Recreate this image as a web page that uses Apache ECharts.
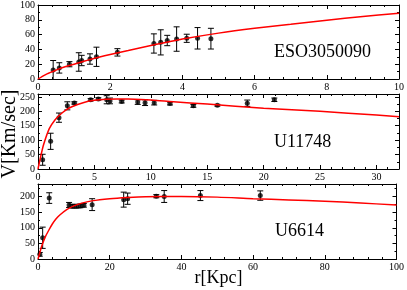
<!DOCTYPE html>
<html><head><meta charset="utf-8">
<script src="https://cdn.jsdelivr.net/npm/echarts@6/dist/echarts.min.js"></script>
<style>html,body{margin:0;padding:0;background:#fff}#c{width:407px;height:290px}</style>
</head><body><div id="c"></div>
<script>
// ---- data ----
const esoR = [0.42,0.59,0.87,1.13,1.21,1.44,1.62,2.2,3.21,3.40,3.58,3.84,4.12,4.42,4.79];
const esoV = [12,15,20,23,25,27,30,36,48,49.5,52,54,55,55,54.5];
const esoE = [13,7,3.5,12.5,7,7,13,5,13,17,7,16.5,5.5,14.5,14];
const esoFitR = [0,0.1,0.25,0.5,0.75,1,1.5,2,2.5,3,3.5,4,5,6,7,8,9,10];
const esoFitV = [0,3,7,12,16.5,20,27,33,38.5,44,49,54,62,68.5,74,79.5,84.5,89];

const u117R = [0.41,1.12,1.86,2.6,3.22,4.67,5.35,6.09,6.38,7.42,8.84,9.49,10.3,11.7,13.77,15.9,18.55,20.95];
const u117V = [32,96,178,219,229,240,243,240,236,234,232,230,230,227,219,221,228,240];
const u117E = [19,28,16,14,4,4,4,14,10,5,8,10,8,5,5,3,11,6];
const u117FitR = [0,0.25,0.5,1,1.5,2,2.5,3,4,5,6,7,8,10,12,15,20,25,30,32];
const u117FitV = [0,45,85,140,170,190,205,216,230,238,242,243,242.5,239,233,225,211,200,187,181];

const u66R = [0.5,1.3,3.13,8.67,9.6,10.7,11.8,12.8,15.1,23.9,25,33,35.2,45.3,62];
const u66V = [15,68,195,173,169,169,170,172,174,190,193,201,200,203,203];
const u66E = [6,34,17,8,6,6,6,6,19,24,18,5,19,16,15];
const u66FitR = [0,0.5,1,2,3,4,5,6,8,10,12,15,20,25,30,40,50,60,70,80,90,100];
const u66FitV = [0,20,40,70,92,112,128,140,158,170,178,186,193,197,199.5,200,198,193,189,185,179,173];

const panelNames = ['ESO3050090','U11748','U6614'];
const xMax = [10,32,100], xInt = [2,5,20];
const yMax = [100,260,240], yInt = [20,50,50];
const xShowMax = [true,false,true];

// ---- chart ----
const F = 'Liberation Serif';
const grids = [
  {left:38, top:4.7, width:361, height:74.3},
  {left:38, top:94, width:361, height:75},
  {left:38, top:184, width:361, height:75}
];
const xAxes = [], yAxes = [], series = [];
function ax(i, max, interval, pos, label, split){
  return {
    gridIndex:i, type:'value', min:0, max:max, interval:interval, position:pos,
    axisLine:{show:true, onZero:false, lineStyle:{color:'#000', width:1}},
    axisTick:{show:true, inside:true, length:4, lineStyle:{color:'#000'}},
    minorTick:{show:true, splitNumber:split, length:2, lineStyle:{color:'#000'}},
    axisLabel:{show:label, color:'#000', fontFamily:F, fontSize:10, margin:3},
    splitLine:{show:false}
  };
}
const pts = [[esoR,esoV,esoE],[u117R,u117V,u117E],[u66R,u66V,u66E]];
const fits = [[esoFitR,esoFitV],[u117FitR,u117FitV],[u66FitR,u66FitV]];
const xSplit=[5,5,5], ySplit=[2,2,2];
for (let i=0;i<3;i++){
  const xb = ax(i,xMax[i],xInt[i],'bottom',true,xSplit[i]);
  xb.axisLabel.showMaxLabel = xShowMax[i];
  xAxes.push(xb);
  xAxes.push(ax(i,xMax[i],xInt[i],'top',false,xSplit[i]));
  const yl = ax(i,yMax[i],yInt[i],'left',true,ySplit[i]);
  yl.axisLabel.showMaxLabel = (i===0);
  yAxes.push(yl);
  yAxes.push(ax(i,yMax[i],yInt[i],'right',false,ySplit[i]));
  const [R,V,E] = pts[i];
  const ed = R.map((r,k)=>[r,V[k],E[k]]);
  series.push({
    type:'custom', xAxisIndex:2*i, yAxisIndex:2*i, clip:true, z:3,
    data: ed,
    renderItem:function(params, api){
      const x=api.value(0), y=api.value(1), e=api.value(2);
      const a=api.coord([x,y-e]), b=api.coord([x,y+e]);
      const w=3, st={stroke:'#000', lineWidth:1};
      return {type:'group', children:[
        {type:'line', shape:{x1:a[0],y1:a[1],x2:b[0],y2:b[1]}, style:st},
        {type:'line', shape:{x1:a[0]-w,y1:a[1],x2:a[0]+w,y2:a[1]}, style:st},
        {type:'line', shape:{x1:b[0]-w,y1:b[1],x2:b[0]+w,y2:b[1]}, style:st}
      ]};
    }
  });
  series.push({
    type:'scatter', xAxisIndex:2*i, yAxisIndex:2*i, z:4,
    symbol:'circle', symbolSize:5, itemStyle:{color:'#000'},
    data: R.map((r,k)=>[r,V[k]])
  });
  const [FR,FV] = fits[i];
  series.push({
    type:'line', xAxisIndex:2*i, yAxisIndex:2*i, z:5, smooth:0.3, showSymbol:false,
    lineStyle:{color:'#ff0000', width:1.5},
    data: FR.map((r,k)=>[r,FV[k]])
  });
}
const labelPos = [[274,52.7],[274,142.7],[275,231.7]];
const graphic = panelNames.map((t,i)=>({
  type:'text', x:labelPos[i][0], y:labelPos[i][1],
  style:{text:t, font:'18px "'+F+'"', fill:'#000', align:'left', verticalAlign:'middle'}
}));
graphic.push({type:'text', x:10, y:134, rotation:Math.PI/2,
  style:{text:'V[Km/sec]', font:'20px "'+F+'"', fill:'#000', align:'center', verticalAlign:'middle'}});
graphic.push({type:'text', x:218.5, y:278,
  style:{text:'r[Kpc]', font:'18px "'+F+'"', fill:'#000', align:'center', verticalAlign:'middle'}});

const chart = echarts.init(document.getElementById('c'), null, {renderer:'canvas'});
chart.setOption({
  animation:false, backgroundColor:'#fff',
  grid:grids, xAxis:xAxes, yAxis:yAxes, series:series, graphic:graphic
});
</script></body></html>
